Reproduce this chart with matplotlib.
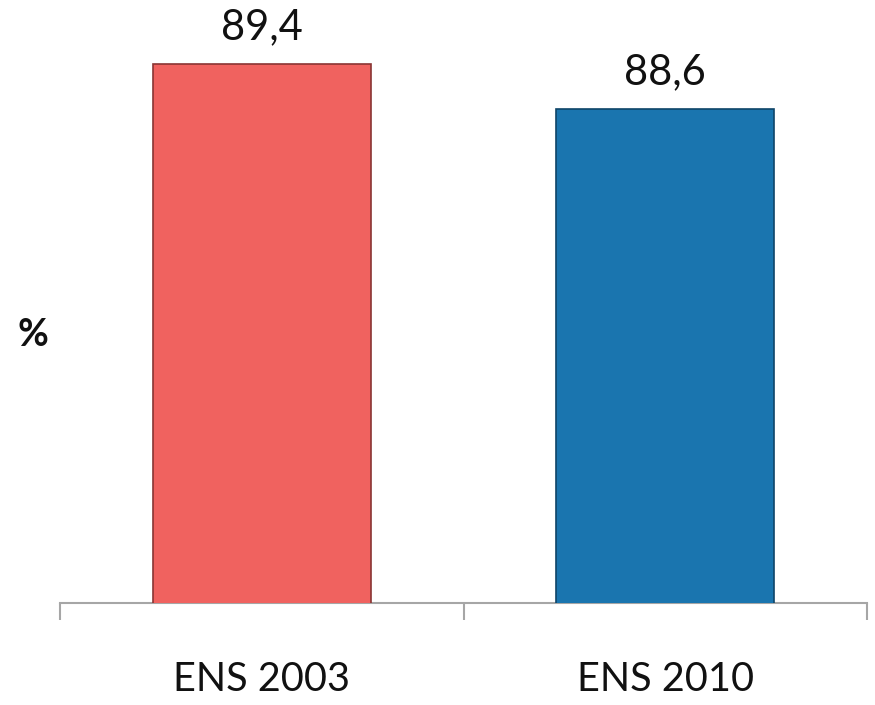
import matplotlib.pyplot as plt

# data
categories = ["ENS 2003", "ENS 2010"]
values = [89.4, 88.6]
value_labels = ["89,4", "88,6"]
bar_colors = ["#F0625F", "#1A75AF"]
edge_colors = ["#8A3533", "#0E4468"]

plt.rcParams['font.family'] = ['Lato', 'DejaVu Sans']

fig = plt.figure(figsize=(8.75, 7.05), dpi=100)
ax = fig.add_axes([60 / 875, 1 - 603 / 705, 807 / 875, (603 - 30) / 705])

x = range(len(categories))
bars = ax.bar(x, values, width=0.54, color=bar_colors, edgecolor=edge_colors,
              linewidth=1.2, zorder=3)

ax.set_xlim(-0.5, 1.5)
ax.set_ylim(79.8, 90)

# value labels above bars
for b, lab in zip(bars, value_labels):
    ax.annotate(lab, (b.get_x() + b.get_width() / 2, b.get_height()),
                xytext=(0, 26), textcoords="offset points",
                ha="center", va="center", fontsize=30, color="#111111")

# axis styling
for s in ["left", "right", "top"]:
    ax.spines[s].set_visible(False)
ax.spines["bottom"].set_color("#A6A6A6")
ax.spines["bottom"].set_linewidth(1.5)
ax.set_yticks([])
ax.set_xticks([-0.5, 0.5, 1.5], minor=False)
ax.set_xticklabels([])
ax.tick_params(axis="x", which="major", direction="out", length=12,
               width=1.5, color="#A6A6A6")
ax.set_xticks(list(x), minor=True)
ax.set_xticklabels(categories, minor=True, fontsize=28.5, color="#111111")
ax.tick_params(axis="x", which="minor", length=0, pad=42)

fig.text(33 / 875, 1 - 335 / 705, "%", fontsize=27, fontweight="bold",
         ha="center", va="center", color="#111111")

fig.savefig("out.png", dpi=100)
